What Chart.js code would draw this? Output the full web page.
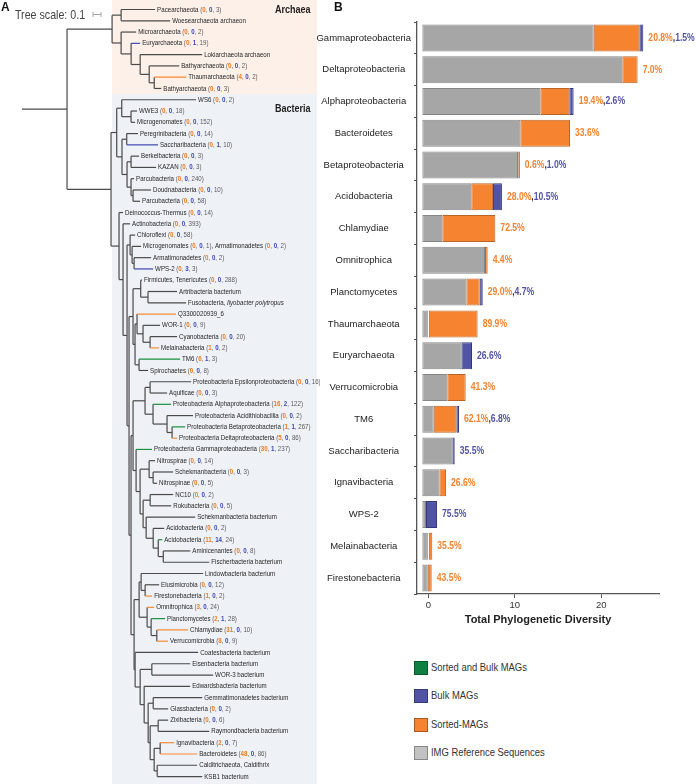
<!DOCTYPE html>
<html>
<head>
<meta charset="utf-8">
<script src="https://cdn.jsdelivr.net/npm/chart.js@4.4.1/dist/chart.umd.min.js"></script>
<style>
  body { margin: 0; background: #fff; }
  #page { position: relative; width: 696px; height: 784px; overflow: hidden; font-family: "Liberation Sans", sans-serif; }
  #tree { position: absolute; left: 0; top: 0; }
  #bars { position: absolute; left: 310px; top: 0; }
  .txt { position: absolute; line-height: 1; white-space: nowrap; transform-origin: left center; }
  .sq { position: absolute; width: 12px; height: 12px; border: 1px solid rgba(0,0,0,0.3); }
</style>
</head>
<body>
<div id="page">
  <canvas id="tree" width="320" height="784"></canvas>
  <canvas id="bars" width="386" height="640"></canvas>
</div>
<script>
// ---------- panel B: phylogenetic diversity per lineage ----------
const categories = ["Gammaproteobacteria", "Deltaproteobacteria", "Alphaproteobacteria", "Bacteroidetes",
  "Betaproteobacteria", "Acidobacteria", "Chlamydiae", "Omnitrophica", "Planctomycetes", "Thaumarchaeota",
  "Euryarchaeota", "Verrucomicrobia", "TM6", "Saccharibacteria", "Ignavibacteria", "WPS-2",
  "Melainabacteria", "Firestonebacteria"];
const imgPD    = [19.81, 23.12, 13.64, 11.33, 11.06, 5.66, 2.31, 7.24, 5.09, 0.69, 4.51, 2.89, 1.31, 3.47, 1.97, 0.42, 0.69, 0.62];
const sortedPD = [5.28, 1.77, 3.35, 5.74, 0.08, 2.50, 6.13, 0.31, 1.54, 5.70, 0, 2.12, 2.62, 0, 0.77, 0, 0.46, 0.46];
const bulkPD   = [0.46, 0, 0.50, 0, 0.12, 1.04, 0, 0, 0.35, 0, 1.23, 0, 0.31, 0.27, 0, 1.27, 0, 0];
const sortedPct = [20.8, 7.0, 19.4, 33.6, 0.6, 28.0, 72.5, 4.4, 29.0, 89.9, null, 41.3, 62.1, null, 26.6, null, 35.5, 43.5];
const bulkPct   = [1.5, null, 2.6, null, 1.0, 10.5, null, null, 4.7, null, 26.6, null, 6.8, 35.5, null, 75.5, null, null];
const barStart = -0.69;   // bars in the figure begin a little left of the 0 tick
const xTicks = [0, 10, 20];
const legendLabels = ["Sorted and Bulk MAGs", "Bulk MAGs", "Sorted-MAGs", "IMG Reference Sequences"];

// ---------- panel A: tree ----------
const leafNames = ["Pacearchaeota", "Woesearchaeota archaeon", "Microarchaeota", "Euryarchaeota",
  "Lokiarchaeota archaeon", "Bathyarchaeota", "Thaumarchaeota", "Bathyarchaeota",
  "WS6", "WWE3", "Microgenomates", "Peregrinibacteria", "Saccharibacteria", "Berkelbacteria", "KAZAN",
  "Parcubacteria", "Doudnabacteria", "Parcubacteria",
  "Deinococcus-Thermus", "Actinobacteria", "Chloroflexi", ["Microgenomates", "Armatimonadetes"],
  "Armatimonadetes", "WPS-2",
  "Firmicutes, Tenericutes", "Artribacteria bacterium", "Fusobacteria, Ilyobacter polytropus",
  "Q3300020939_6", "WOR-1", "Cyanobacteria", "Melainabacteria", "TM6", "Spirochaetes",
  "Proteobacteria Epsilonproteobacteria", "Aquificae", "Proteobacteria Alphaproteobacteria",
  "Proteobacteria Acidithiobacillia", "Proteobacteria Betaproteobacteria", "Proteobacteria Deltaproteobacteria",
  "Proteobacteria Gammaproteobacteria", "Nitrospirae", "Schekmanbacteria", "Nitrospinae", "NC10",
  "Rokubacteria", "Schekmanbacteria bacterium", "Acidobacteria", "Acidobacteria", "Aminicenantes",
  "Fischerbacteria bacterium",
  "Lindowbacteria bacterium", "Elusimicrobia", "Firestonebacteria", "Omnitrophica", "Planctomycetes",
  "Chlamydiae", "Verrucomicrobia",
  "Coatesbacteria bacterium", "Eisenbacteria bacterium", "WOR-3 bacterium", "Edwardsbacteria bacterium",
  "Gemmatimonadetes bacterium", "Glassbacteria", "Zixibacteria", "Raymondbacteria bacterium",
  "Ignavibacteria", "Bacteroidetes", "Calditrichaeota, Caldithrix", "KSB1 bacterium"];
const sortedCounts = [0, null, 0, 0, null, 0, 4, 0,
  0, 0, 0, 0, 0, 0, 0, 0, 0, 0,
  0, 0, 0, [0, 0], 0, 0,
  0, null, null, null, 0, 0, 1, 6, 0,
  0, 0, 16, 0, 1, 5, 30, 0, 0, 0, 0, 0, null, 0, 11, 0, null,
  null, 0, 1, 3, 2, 31, 8,
  null, null, null, null, null, 0, 0, null, 2, 48, null, null];
const bulkCounts = [0, null, 0, 1, null, 0, 0, 0,
  0, 0, 0, 0, 1, 0, 0, 0, 0, 0,
  0, 0, 0, [0, 0], 0, 3,
  0, null, null, null, 0, 0, 0, 1, 0,
  0, 0, 2, 0, 1, 0, 1, 0, 0, 0, 0, 0, null, 0, 14, 0, null,
  null, 0, 0, 0, 1, 0, 0,
  null, null, null, null, null, 0, 0, null, 0, 0, null, null];
const imgCounts = [3, null, 2, 19, null, 2, 2, 3,
  2, 18, 152, 14, 10, 3, 3, 240, 10, 58,
  14, 393, 58, [1, 2], 2, 3,
  288, null, null, null, 9, 20, 2, 3, 8,
  16, 3, 122, 2, 267, 86, 237, 14, 3, 5, 2, 5, null, 2, 24, 8, null,
  null, 12, 2, 24, 28, 10, 9,
  null, null, null, null, null, 2, 6, null, 7, 86, null, null];
const extraSortedLeaves = ["Q3300020939_6"];
const italicNames = ["Ilyobacter polytropus"];
const treeScaleLength = 0.1;

// branch lengths in substitutions per site; leaf names are indexes into the arrays above
const archaeaClade = "((0:0.425,1:0.613):0.113,(2:0.188,(3:0.113,(4:0.775,(5:0.375,(6:0.4,7:0.088):0.063):0.113):0.113):0.125):0.113):0.563";
const cprClade = "((8:0.929,(9:0.075,10:0.05):0.116):0.063,((11:0.141,12:0.391):0.059,((13:0.1,14:0.313):0.05,(15:0.038,(16:0.225,17:0.088):0.025):0.05):0.063):0.066):0.071";
const r4Clade = "(20:0.063,(21:0.113,(22:0.213,23:0.238):0.025):0.025):0.038";
const r6Clade = "((24:0.016,(25:0.363,26:0.475):0.091):0.096,((27:0.488,(28:0.213,(29:0.338,30:0.113):0.088):0.075):0.025,(31:0.513,32:0.113):0.05):0.025):0.05";
const r7eClade = "((33:0.513,34:0.213):0.063,(35:0.225,(36:0.325,(37:0.163,38:0.063):0.063):0.175):0.1):0.15";
const r7oClade = "(39:0.2,((40:0.075,(41:0.25,42:0.05):0.05):0.113,((43:0.288,44:0.263):0.088,(45:0.613,(46:0.138,(47:0.05,(48:0.338,49:0.575):0.063):0.063):0.088):0.038):0.038):0.05):0.038";
const r8fClade = "((50:0.775,(51:0.175,52:0.088):0.05):0.025,(53:0.088,(54:0.175,(55:0.391,56:0.141):0.071):0.05):0.1):0.063";
const r8qClade = "(57:0.788,((58:0.479,59:0.766):0.146,(60:0.575,((61:0.613,62:0.188):0.063,((63:0.125,64:0.638):0.1,((65:0.175,66:0.463):0.075,(67:0.5,68:0.563):0.038):0.05):0.025):0.05):0.05):0.063):0.013";
const restClade = `(18:0.05,(19:0.088,(${r4Clade},(${r6Clade},((${r7eClade},${r7oClade}):0.025,(${r8fClade},${r8qClade}):0.038):0.025):0.025):0.05):0.05):0.1`;
const treeNewick = `(${archaeaClade},(${cprClade},${restClade}):0.55):0.563;`;

// ---------- colours ----------
const C = {
  img: "#a6a6a6", imgLegend: "#c2c2c2", sorted: "#f5832f", bulk: "#5153a4", both: "#0f8041",
  branch: "#4a4a4a", branchSorted: "#f58a35", branchBulk: "#3f46b0", branchBoth: "#1b8e3e",
  text: "#262626", countSorted: "#f07a1a", countBulk: "#3c46b8", countImg: "#5a5a5a",
  archaeaBg: "#fdf0e9", bacteriaBg: "#eef2f7"
};

// narrow font if installed, else squeeze the regular one
function hasFont(name) {
  const c = document.createElement("canvas").getContext("2d");
  const s = "abcdefghijklmnopqrstuvwxyz0123456789";
  return ["monospace", "serif"].some(f => {
    c.font = `40px ${f}`; const a = c.measureText(s).width;
    c.font = `40px "${name}", ${f}`; const b = c.measureText(s).width;
    return a !== b;
  });
}
const narrowOK = hasFont("Liberation Sans Narrow");
const family = narrowOK ? '"Liberation Sans Narrow", sans-serif' : '"Liberation Sans", sans-serif';
const squeeze = narrowOK ? 1 : 0.82;

function drawPieces(ctx, pieces, x, y, size) {
  ctx.save();
  ctx.translate(x, y);
  ctx.scale(squeeze, 1);
  ctx.textBaseline = "middle";
  ctx.textAlign = "left";
  let cx = 0;
  pieces.forEach(p => {
    ctx.font = `${p.italic ? "italic " : ""}${p.bold ? "bold " : ""}${size}px ${family}`;
    ctx.fillStyle = p.color;
    ctx.fillText(p.text, cx, 0);
    cx += ctx.measureText(p.text).width;
  });
  ctx.restore();
}

function addText(text, left, centerY, size, opts = {}) {
  const d = document.createElement("div");
  d.className = "txt";
  d.textContent = text;
  d.style.left = left + "px";
  d.style.top = (centerY - size / 2) + "px";
  d.style.fontSize = size + "px";
  d.style.fontFamily = opts.regular ? '"Liberation Sans", sans-serif' : family;
  d.style.fontWeight = opts.bold ? "bold" : "normal";
  d.style.color = opts.color || "#222";
  if (!narrowOK && !opts.regular) d.style.transform = `scaleX(${squeeze})`;
  document.getElementById("page").appendChild(d);
}

// ---------- tree parsing and layout ----------
function parseNewick(s) {
  let i = 0;
  function node() {
    const n = { children: [], name: "", length: 0 };
    if (s[i] === "(") {
      i++;
      n.children.push(node());
      while (s[i] === ",") { i++; n.children.push(node()); }
      i++;
    }
    let name = "";
    while (i < s.length && !",():;".includes(s[i])) name += s[i++];
    n.name = name;
    if (s[i] === ":") {
      i++;
      let num = "";
      while (i < s.length && !",();".includes(s[i])) num += s[i++];
      n.length = parseFloat(num);
    }
    return n;
  }
  return node();
}

const root = parseNewick(treeNewick);
const allNodes = [];
const leaves = [];
let leafRow = 0;
function layout(n, parentDepth) {
  n.parentDepth = parentDepth;
  n.depth = parentDepth + n.length;
  allNodes.push(n);
  if (!n.children.length) {
    n.leaf = +n.name;
    n.y = leafRow++;
    leaves.push(n);
  } else {
    n.children.forEach(c => layout(c, n.depth));
    n.y = (n.children[0].y + n.children[n.children.length - 1].y) / 2;
  }
}
layout(root, 0);

const total = v => v == null ? 0 : [].concat(v).reduce((a, b) => a + b, 0);
function branchColor(n) {
  if (n.children.length) return C.branch;
  const i = n.leaf;
  const s = total(sortedCounts[i]) > 0 || extraSortedLeaves.includes(leafNames[i]);
  const b = total(bulkCounts[i]) > 0;
  if (s && b) return C.branchBoth;
  if (s) return C.branchSorted;
  if (b) return C.branchBulk;
  return C.branch;
}

function segment(x0, y0, x1, y1, color) {
  return {
    data: [{ x: x0, y: y0 }, { x: x1, y: y1 }],
    showLine: true, borderColor: color, borderWidth: 1.2, pointRadius: 0, fill: false
  };
}
const colouredSets = [];
const plainSets = [];
allNodes.forEach(n => {
  const col = branchColor(n);
  (col === C.branch ? plainSets : colouredSets).push(segment(n.parentDepth, n.y, n.depth, n.y, col));
  if (n.children.length) {
    const a = n.children[0].y, b = n.children[n.children.length - 1].y;
    plainSets.push(segment(n.depth, a, n.depth, b, C.branch));
  }
});

function leafPieces(i) {
  const names = [].concat(leafNames[i]);
  const pick = (v, k) => Array.isArray(v) ? v[k] : v;
  const out = [];
  names.forEach((nm, k) => {
    if (k) out.push({ text: ", ", color: C.text });
    const it = italicNames.find(t => nm.includes(t));
    if (it) {
      out.push({ text: nm.replace(it, ""), color: C.text });
      out.push({ text: it, color: C.text, italic: true });
    } else {
      out.push({ text: nm, color: C.text });
    }
    if (sortedCounts[i] != null) {
      out.push({ text: " (", color: C.countImg });
      out.push({ text: String(pick(sortedCounts[i], k)), color: C.countSorted, bold: true });
      out.push({ text: ", ", color: C.countImg });
      out.push({ text: String(pick(bulkCounts[i], k)), color: C.countBulk, bold: true });
      out.push({ text: ", ", color: C.countImg });
      out.push({ text: String(pick(imgCounts[i], k)), color: C.countImg });
      out.push({ text: ")", color: C.countImg });
    }
  });
  return out;
}

const archaeaNode = root.children[0];
const archaeaLeafCount = leaves.filter(l => l.leaf < 8).length;

const treeBackground = {
  id: "treeBackground",
  beforeDatasetsDraw(chart) {
    const { ctx, scales: { x, y } } = chart;
    const left = x.getPixelForValue(archaeaNode.depth);
    const right = 317;
    const split = y.getPixelForValue(archaeaLeafCount - 0.5);
    ctx.save();
    ctx.fillStyle = C.archaeaBg;
    ctx.fillRect(left, 0, right - left, split);
    ctx.fillStyle = C.bacteriaBg;
    ctx.fillRect(left, split, right - left, chart.height - split);
    ctx.restore();
  }
};
const treeLabels = {
  id: "treeLabels",
  afterDatasetsDraw(chart) {
    const { ctx, scales: { x, y } } = chart;
    leaves.forEach(n => {
      drawPieces(ctx, leafPieces(n.leaf), x.getPixelForValue(n.depth) + 2, y.getPixelForValue(n.y), 7.5);
    });
    // scale bar
    const x0 = 93, len = x.getPixelForValue(treeScaleLength) - x.getPixelForValue(0), yb = 14.5;
    ctx.save();
    ctx.strokeStyle = "#a8a8a8";
    ctx.lineWidth = 1;
    ctx.beginPath();
    ctx.moveTo(x0, yb); ctx.lineTo(x0 + len, yb);
    ctx.moveTo(x0, yb - 2.5); ctx.lineTo(x0, yb + 2.5);
    ctx.moveTo(x0 + len, yb - 2.5); ctx.lineTo(x0 + len, yb + 2.5);
    ctx.stroke();
    ctx.restore();
  }
};

new Chart(document.getElementById("tree"), {
  type: "scatter",
  data: { datasets: colouredSets.concat(plainSets) },
  options: {
    responsive: false,
    animation: false,
    events: [],
    layout: { padding: 0 },
    plugins: { legend: { display: false }, tooltip: { enabled: false } },
    scales: {
      x: { type: "linear", min: -0.275, max: 3.725, display: false },
      y: { type: "linear", min: -0.842, max: 68.66, reverse: true, display: false }
    }
  },
  plugins: [treeBackground, treeLabels]
});

// ---------- bar chart ----------
function floating(values, before) {
  return values.map((v, i) => {
    const s = barStart + before.reduce((acc, arr) => acc + arr[i], 0);
    return v > 0 ? [s, s + v] : null;
  });
}
const barDatasets = [
  { label: legendLabels[3], data: floating(imgPD, []), backgroundColor: C.img, borderColor: "#858585" },
  { label: legendLabels[2], data: floating(sortedPD, [imgPD]), backgroundColor: C.sorted, borderColor: "#b9652a" },
  { label: legendLabels[1], data: floating(bulkPD, [imgPD, sortedPD]), backgroundColor: C.bulk, borderColor: "#34367a" }
].map(d => Object.assign(d, {
  grouped: false, borderWidth: 1, borderSkipped: false, barPercentage: 0.85, categoryPercentage: 1
}));

const pctLabels = {
  id: "pctLabels",
  afterDatasetsDraw(chart) {
    const { ctx, scales: { x, y } } = chart;
    categories.forEach((c, i) => {
      const end = barStart + imgPD[i] + sortedPD[i] + bulkPD[i];
      const pieces = [];
      if (sortedPct[i] != null) pieces.push({ text: sortedPct[i].toFixed(1) + "%", color: C.sorted, bold: true });
      if (sortedPct[i] != null && bulkPct[i] != null) pieces.push({ text: ",", color: "#333", bold: true });
      if (bulkPct[i] != null) pieces.push({ text: bulkPct[i].toFixed(1) + "%", color: C.bulk, bold: true });
      drawPieces(ctx, pieces, x.getPixelForValue(end) + 5, y.getPixelForValue(i), 10.5);
    });
  }
};

new Chart(document.getElementById("bars"), {
  type: "bar",
  data: { labels: categories, datasets: barDatasets },
  options: {
    indexAxis: "y",
    responsive: false,
    animation: false,
    events: [],
    layout: { padding: { top: 22, right: 37, bottom: 6, left: 0 } },
    plugins: { legend: { display: false }, tooltip: { enabled: false } },
    scales: {
      x: {
        type: "linear", min: -1.31, max: 26.67,
        afterBuildTicks: s => { s.ticks = xTicks.map(v => ({ value: v })); },
        afterFit: s => { s.height = 40; },
        grid: { drawOnChartArea: false, drawTicks: true, tickLength: 4, color: "#555" },
        border: { color: "#555", width: 1.3 },
        ticks: { color: "#333", padding: 2, font: { family: family, size: narrowOK ? 11 : 9.5 } },
        title: {
          display: true, text: "Total Phylogenetic Diversity", color: "#222",
          font: { family: '"Liberation Sans", sans-serif', size: 11, weight: "bold" },
          padding: { top: 4, bottom: 7 }
        }
      },
      y: {
        type: "category",
        afterFit: s => { s.width = 107; },
        grid: { drawOnChartArea: false, drawTicks: true, tickLength: 3, color: "#555" },
        border: { color: "#555", width: 1.3 },
        ticks: { color: "#222", padding: 3, crossAlign: "center", font: { family: family, size: narrowOK ? 11.5 : 9.5 } }
      }
    }
  },
  plugins: [pctLabels]
});

// ---------- text, legend ----------
addText("A", 1, 7, 12, { bold: true, regular: true, color: "#111" });
addText("Tree scale: 0.1", 15, 14.5, 13, { color: "#444" });
addText("Archaea", 275, 9, 11, { bold: true, color: "#222" });
addText("Bacteria", 275, 108.5, 11, { bold: true, color: "#222" });
addText("B", 334, 7, 12, { bold: true, regular: true, color: "#111" });

const legendColors = [C.both, C.bulk, C.sorted, C.imgLegend];
const legendTops = [661, 689, 718, 746];
legendLabels.forEach((lab, k) => {
  const sq = document.createElement("div");
  sq.className = "sq";
  sq.style.left = "414px";
  sq.style.top = legendTops[k] + "px";
  sq.style.background = legendColors[k];
  document.getElementById("page").appendChild(sq);
  addText(lab, 431, legendTops[k] + 7, 11.5, { color: "#333" });
});
</script>
</body>
</html>
